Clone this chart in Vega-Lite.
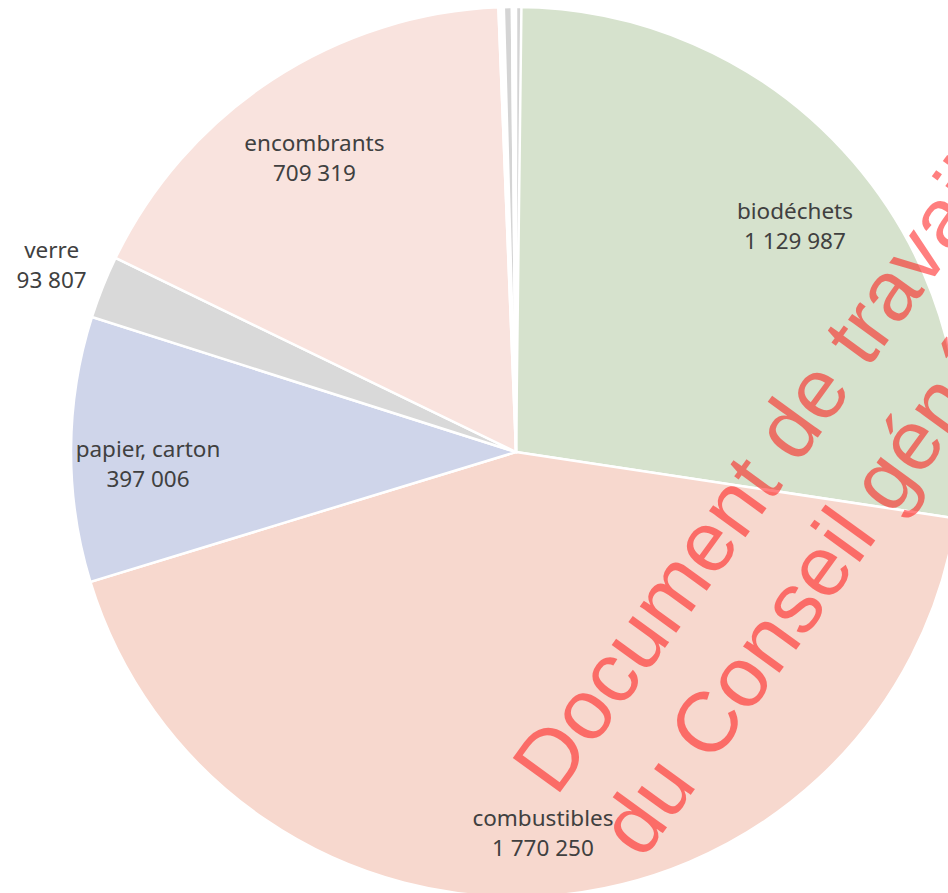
{
  "$schema": "https://vega.github.io/schema/vega-lite/v6.json",
  "width": 1032,
  "height": 904,
  "padding": 0,
  "autosize": {"type": "none"},
  "background": "white",
  "config": {"view": {"stroke": null}},
  "title": {
    "text": ["Document de travail", "du Conseil général"],
    "orient": "bottom",
    "anchor": "middle",
    "frame": "group",
    "offset": -106,
    "angle": -54,
    "align": "left",
    "baseline": "alphabetic",
    "dx": 23.5,
    "dy": 32.4,
    "font": "Liberation Sans",
    "fontSize": 85,
    "fontWeight": "normal",
    "lineHeight": 107,
    "limit": 5000,
    "color": "rgba(255,0,0,0.5)"
  },
  "data": {
    "values": [
      {"cat": "biodéchets", "value": 1129987, "rank": 1},
      {"cat": "combustibles", "value": 1770250, "rank": 2},
      {"cat": "papier, carton", "value": 397006, "rank": 3},
      {"cat": "verre", "value": 93807, "rank": 4},
      {"cat": "encombrants", "value": 709319, "rank": 5},
      {"cat": "autres 1", "value": 8000, "rank": 6},
      {"cat": "autres 2", "value": 12000, "rank": 7},
      {"cat": "autres 3", "value": 6000, "rank": 8},
      {"cat": "autres 4", "value": 8000, "rank": 9}
    ]
  },
  "transform": [
    {"stack": "value", "groupby": [], "sort": [{"field": "rank", "order": "ascending"}], "as": ["v0", "v1"]},
    {"calculate": "(datum.v0 + datum.v1) / 2", "as": "vmid"},
    {"calculate": "[datum.cat, replace(format(datum.value, ',d'), /,/g, ' ')]", "as": "lbl"}
  ],
  "layer": [
    {
      "mark": {"type": "arc", "outerRadius": 445, "stroke": "white", "strokeWidth": 2.5},
      "encoding": {
        "theta": {"field": "v0", "type": "quantitative", "stack": null},
        "theta2": {"field": "v1"},
        "color": {
          "field": "cat",
          "type": "nominal",
          "scale": {
            "domain": ["biodéchets", "combustibles", "papier, carton", "verre", "encombrants", "autres 1", "autres 2", "autres 3", "autres 4"],
            "range": ["#d6e2cd", "#f7d8ce", "#cfd5ea", "#d9d9d9", "#f9e3de", "#ffffff", "#d4d4d4", "#ffffff", "#d4d4d4"]
          },
          "legend": null
        }
      }
    },
    {
      "transform": [{"filter": "indexof(['biodéchets','combustibles','papier, carton','encombrants'], datum.cat) >= 0"}],
      "mark": {"type": "text", "radius": 368, "font": "Noto Sans", "fontSize": 22.5, "lineHeight": 30, "color": "#404040", "baseline": "middle", "align": "center"},
      "encoding": {
        "theta": {"field": "vmid", "type": "quantitative", "stack": null},
        "text": {"field": "lbl", "type": "nominal"}
      }
    },
    {
      "transform": [{"filter": "datum.cat == 'verre'"}],
      "mark": {"type": "text", "radius": 500, "dy": -16, "font": "Noto Sans", "fontSize": 22.5, "lineHeight": 30, "color": "#404040", "baseline": "middle", "align": "center"},
      "encoding": {
        "theta": {"field": "vmid", "type": "quantitative", "stack": null},
        "text": {"field": "lbl", "type": "nominal"}
      }
    }
  ]
}
